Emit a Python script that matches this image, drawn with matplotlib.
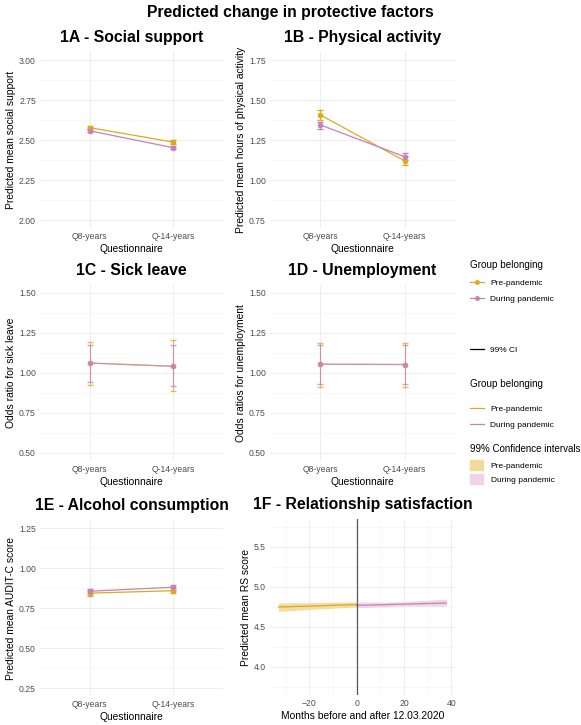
import numpy as np
import matplotlib.pyplot as plt
from matplotlib.lines import Line2D
from matplotlib.patches import Patch

plt.rcParams['font.family'] = ['Liberation Sans', 'DejaVu Sans']

# Farger
pre_col = '#DDA91F'
dur_col = '#C582B8'
pre_fill = '#F3D99A'
dur_fill = '#EFD3E6'

# Data
questionnaires = ['Q8-years', 'Q-14-years']

social_pre = [2.577, 2.487]
social_pre_lo = [2.567, 2.477]
social_pre_hi = [2.587, 2.497]
social_dur = [2.557, 2.452]
social_dur_lo = [2.547, 2.442]
social_dur_hi = [2.567, 2.462]

phys_pre = [1.406, 1.120]
phys_pre_lo = [1.375, 1.094]
phys_pre_hi = [1.438, 1.150]
phys_dur = [1.344, 1.146]
phys_dur_lo = [1.320, 1.125]
phys_dur_hi = [1.364, 1.166]

sick_pre = [1.062, 1.042]
sick_pre_lo = [0.923, 0.885]
sick_pre_hi = [1.194, 1.204]
sick_dur = [1.062, 1.042]
sick_dur_lo = [0.944, 0.917]
sick_dur_hi = [1.177, 1.173]

unemp_pre = [1.055, 1.053]
unemp_pre_lo = [0.910, 0.910]
unemp_pre_hi = [1.188, 1.188]
unemp_dur = [1.055, 1.053]
unemp_dur_lo = [0.930, 0.930]
unemp_dur_hi = [1.175, 1.173]

alc_pre = [0.843, 0.858]
alc_pre_lo = [0.828, 0.843]
alc_pre_hi = [0.858, 0.873]
alc_dur = [0.855, 0.880]
alc_dur_lo = [0.840, 0.865]
alc_dur_hi = [0.870, 0.895]

rs_pre_months = [-33, -16, 0]
rs_pre_fit = [4.750, 4.765, 4.780]
rs_pre_lo = [4.695, 4.725, 4.750]
rs_pre_hi = [4.800, 4.805, 4.815]
rs_dur_months = [0, 19, 38]
rs_dur_fit = [4.770, 4.785, 4.800]
rs_dur_lo = [4.740, 4.760, 4.760]
rs_dur_hi = [4.810, 4.815, 4.850]

group_labels = ['Pre-pandemic', 'During pandemic']

W, H = 581, 725
fig = plt.figure(figsize=(W / 100, H / 100), dpi=100)


def make_ax(left, right, top, bottom):
    return fig.add_axes([left / W, 1 - bottom / H, (right - left) / W, (bottom - top) / H])


def style_ax(ax, title, ylabel, xlabel, ymin, ymax, step):
    for s in ax.spines.values():
        s.set_visible(False)
    rng = ymax - ymin
    ax.set_ylim(ymin - 0.05 * rng, ymax + 0.05 * rng)
    ax.set_yticks(np.arange(ymin, ymax + step / 2, step))
    ax.set_yticks(np.arange(ymin + step / 2, ymax, step), minor=True)
    ax.grid(True, which='major', color='#EBEBEB', lw=0.6)
    ax.grid(True, which='minor', axis='y', color='#F3F3F3', lw=0.4)
    ax.set_axisbelow(True)
    ax.tick_params(which='both', length=0, labelsize=6.2, labelcolor='#4D4D4D', pad=3)
    ax.set_title(title, fontsize=11.3, fontweight='bold', pad=7)
    ax.set_ylabel(ylabel, fontsize=7.4, labelpad=2)
    ax.set_xlabel(xlabel, fontsize=7.4, labelpad=2)


def group_plot(ax, pre, pre_lo, pre_hi, dur, dur_lo, dur_hi, alpha=1.0):
    x = np.arange(1, len(questionnaires) + 1)
    for vals, lo, hi, col in [(pre, pre_lo, pre_hi, pre_col), (dur, dur_lo, dur_hi, dur_col)]:
        vals = np.array(vals)
        err = [vals - np.array(lo), np.array(hi) - vals]
        ax.errorbar(x, vals, yerr=err, color=col, lw=0.9, marker='o', ms=3,
                    capsize=2, elinewidth=0.8, alpha=alpha)
    ax.set_xlim(0.4, 2.6)
    ax.set_xticks(x)
    ax.set_xticklabels(questionnaires)


ax_a = make_ax(40, 223, 52, 228)
group_plot(ax_a, social_pre, social_pre_lo, social_pre_hi, social_dur, social_dur_lo, social_dur_hi)
style_ax(ax_a, '1A - Social support', 'Predicted mean social support', 'Questionnaire', 2.0, 3.0, 0.25)

ax_b = make_ax(270, 455, 52, 228)
group_plot(ax_b, phys_pre, phys_pre_lo, phys_pre_hi, phys_dur, phys_dur_lo, phys_dur_hi)
style_ax(ax_b, '1B - Physical activity', 'Predicted mean hours of physical activity', 'Questionnaire', 0.75, 1.75, 0.25)

ax_c = make_ax(40, 223, 285, 461)
group_plot(ax_c, sick_pre, sick_pre_lo, sick_pre_hi, sick_dur, sick_dur_lo, sick_dur_hi, alpha=0.75)
style_ax(ax_c, '1C - Sick leave', 'Odds ratio for sick leave', 'Questionnaire', 0.5, 1.5, 0.25)

ax_d = make_ax(270, 455, 285, 461)
group_plot(ax_d, unemp_pre, unemp_pre_lo, unemp_pre_hi, unemp_dur, unemp_dur_lo, unemp_dur_hi, alpha=0.75)
style_ax(ax_d, '1D - Unemployment', 'Odds ratios for unemployment', 'Questionnaire', 0.5, 1.5, 0.25)

ax_e = make_ax(40, 223, 520, 696)
group_plot(ax_e, alc_pre, alc_pre_lo, alc_pre_hi, alc_dur, alc_dur_lo, alc_dur_hi)
style_ax(ax_e, '1E - Alcohol consumption', 'Predicted mean AUDIT-C score', 'Questionnaire', 0.25, 1.25, 0.25)

# 1F - tidslinje
ax_f = make_ax(270, 455, 519, 695)
ax_f.fill_between(rs_pre_months, rs_pre_lo, rs_pre_hi, color=pre_fill, lw=0, alpha=0.9)
ax_f.fill_between(rs_dur_months, rs_dur_lo, rs_dur_hi, color=dur_fill, lw=0, alpha=0.9)
ax_f.plot(rs_pre_months, rs_pre_fit, color=pre_col, lw=0.9)
ax_f.plot(rs_dur_months, rs_dur_fit, color=dur_col, lw=0.9)
ax_f.axvline(0, color='#555555', lw=0.9)
xr = rs_dur_months[-1] - rs_pre_months[0]
ax_f.set_xlim(rs_pre_months[0] - 0.05 * xr, rs_dur_months[-1] + 0.05 * xr)
ax_f.set_xticks([-20, 0, 20, 40])
ax_f.set_xticks([-30, -10, 10, 30], minor=True)
ax_f.grid(True, which='minor', axis='x', color='#F3F3F3', lw=0.4)
style_ax(ax_f, '1F - Relationship satisfaction', 'Predicted mean RS score',
         'Months before and after 12.03.2020', 3.75, 5.75, 0.25)
ax_f.set_yticks([4.0, 4.5, 5.0, 5.5])
ax_f.set_yticks([3.75, 4.25, 4.75, 5.25, 5.75], minor=True)

fig.suptitle('Predicted change in protective factors', fontsize=11.3, fontweight='bold',
             x=0.5, y=1 - 13 / H, va='center')

# Legender (titler som egen tekst)
leg_x = 470 / W
leg_kw = dict(frameon=False, loc='upper left', fontsize=6, handlelength=1.7,
              handletextpad=0.7, labelspacing=1.0, borderaxespad=0, borderpad=0)

fig.text(leg_x, 1 - 265 / H, 'Group belonging', fontsize=7.1, va='center')
h1 = [Line2D([], [], color=pre_col, marker='o', ms=2.5, lw=0.9),
      Line2D([], [], color=dur_col, marker='o', ms=2.5, lw=0.9)]
fig.legend(h1, group_labels, bbox_to_anchor=(leg_x, 1 - 279 / H), **leg_kw)

h2 = [Line2D([], [], color='black', lw=0.9)]
fig.legend(h2, ['99% CI'], bbox_to_anchor=(leg_x, 1 - 346 / H), **leg_kw)

fig.text(leg_x, 1 - 384 / H, 'Group belonging', fontsize=7.1, va='center')
h3 = [Line2D([], [], color=pre_col, lw=0.9), Line2D([], [], color=dur_col, lw=0.9)]
fig.legend(h3, group_labels, bbox_to_anchor=(leg_x, 1 - 405 / H), **leg_kw)

fig.text(leg_x, 1 - 449 / H, '99% Confidence intervals', fontsize=7, va='center')
h4 = [Patch(color=pre_fill), Patch(color=dur_fill)]
fig.legend(h4, group_labels, bbox_to_anchor=(leg_x, 1 - 460 / H), frameon=False,
           loc='upper left', fontsize=6, handlelength=1.5, handleheight=1.4,
           handletextpad=1.0, labelspacing=0.55, borderaxespad=0, borderpad=0)

fig.savefig('out.png', dpi=100, facecolor='white')
